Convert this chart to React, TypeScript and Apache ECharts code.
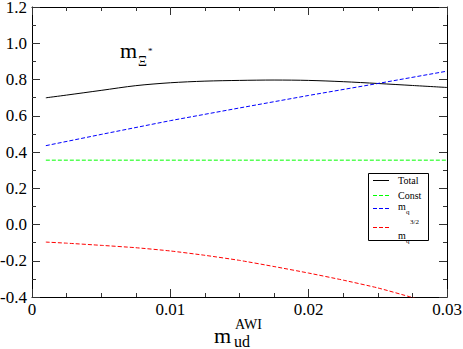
import React, { useEffect, useRef } from "react";
import * as echarts from "echarts";

const xFine = [0.001, 0.0025, 0.005, 0.0075, 0.01, 0.0125, 0.015, 0.0175, 0.02, 0.0225, 0.025, 0.0275, 0.03];
const total = [0.699, 0.714, 0.74, 0.766, 0.782, 0.791, 0.795, 0.797, 0.795, 0.788, 0.778, 0.767, 0.756];
const mq32 = [-0.097, -0.103, -0.115, -0.128, -0.146, -0.17, -0.198, -0.232, -0.268, -0.307, -0.35, -0.403, -0.46];
const xParts = [0.001, 0.005, 0.01, 0.015, 0.02, 0.025, 0.03];
const constant = [0.355, 0.355, 0.355, 0.355, 0.355, 0.355, 0.355];
const mq = [0.435, 0.497, 0.573, 0.643, 0.712, 0.778, 0.846];
const seriesNames = ["Total", "Const", "m_q", "m_q^3/2"];

const SERIF = "Liberation Serif";

function pairs(xs: number[], ys: number[]) {
  return xs.map((x, i) => [x, ys[i]]);
}

export default function App() {
  const ref = useRef<HTMLDivElement>(null);
  useEffect(() => {
    if (!ref.current) return;
    const chart = echarts.init(ref.current, null, { renderer: "svg" });
    const axisCommon = (show: boolean) => ({
      axisLine: { show: true, onZero: false, lineStyle: { color: "#000", width: 1 } },
      axisTick: { show: true, inside: true, length: 8, lineStyle: { color: "#333", width: 1 } },
      splitLine: { show: false },
      axisLabel: { show },
    });
    const txt = (text: string, x: number, y: number, size: number, align = "left") => ({
      type: "text",
      x,
      y,
      style: { text, fontSize: size, fontFamily: SERIF, fill: "#000", align, verticalAlign: "middle" },
      z: 100,
    });
    const sample = (y: number, color: string, dashed: boolean) => ({
      type: "line",
      shape: { x1: 373, y1: y, x2: 389, y2: y },
      style: { stroke: color, lineWidth: 1, lineDash: dashed ? [4, 2] : null },
      z: 100,
    });
    chart.setOption({
      animation: false,
      backgroundColor: "#fff",
      textStyle: { fontFamily: SERIF },
      grid: { left: 32, top: 7, right: 16, bottom: 52, containLabel: false, outerBoundsMode: "none" },
      xAxis: [
        {
          type: "value",
          position: "bottom",
          min: 0,
          max: 0.03,
          interval: 0.01,
          ...axisCommon(true),
          minorTick: { show: true, splitNumber: 4, length: 4, lineStyle: { color: "#333", width: 1 } },
          axisLabel: {
            show: true,
            margin: 4,
            color: "#000",
            fontSize: 17,
            lineHeight: 17,
            fontFamily: SERIF,
            formatter: (v: number) => String(parseFloat(v.toFixed(3))),
          },
        },
        {
          type: "value",
          position: "top",
          min: 0,
          max: 0.03,
          interval: 0.01,
          ...axisCommon(false),
          minorTick: { show: true, splitNumber: 4, length: 4, lineStyle: { color: "#333", width: 1 } },
        },
      ],
      yAxis: [
        {
          type: "value",
          position: "left",
          min: -0.4,
          max: 1.2,
          interval: 0.2,
          ...axisCommon(true),
          minorTick: { show: true, splitNumber: 2, length: 4, lineStyle: { color: "#333", width: 1 } },
          axisLabel: {
            show: true,
            margin: 5,
            color: "#000",
            fontSize: 17,
            lineHeight: 13,
            fontFamily: SERIF,
            formatter: (v: number) => v.toFixed(1),
          },
        },
        {
          type: "value",
          position: "right",
          min: -0.4,
          max: 1.2,
          interval: 0.2,
          ...axisCommon(false),
          minorTick: { show: true, splitNumber: 2, length: 4, lineStyle: { color: "#333", width: 1 } },
        },
      ],
      series: [
        {
          name: seriesNames[0],
          type: "line",
          data: pairs(xFine, total),
          smooth: 0.3,
          showSymbol: false,
          lineStyle: { color: "#000", width: 1 },
        },
        {
          name: seriesNames[1],
          type: "line",
          data: pairs(xParts, constant),
          showSymbol: false,
          lineStyle: { color: "#00ff00", width: 1, type: [4, 2] },
        },
        {
          name: seriesNames[2],
          type: "line",
          data: pairs(xParts, mq),
          showSymbol: false,
          lineStyle: { color: "#0000ff", width: 1, type: [4, 2] },
        },
        {
          name: seriesNames[3],
          type: "line",
          data: pairs(xFine, mq32),
          smooth: 0.2,
          showSymbol: false,
          clip: true,
          lineStyle: { color: "#ff0000", width: 1, type: [4, 2] },
        },
      ],
      graphic: [
        // title
        txt("m", 120, 50, 22),
        txt("Ξ", 138, 61, 14),
        txt("*", 148, 51, 9),
        // x-axis name
        txt("m", 214, 335.5, 22),
        txt("AWI", 235, 324.5, 14),
        txt("ud", 234, 341.5, 16),
        // legend box
        {
          type: "rect",
          shape: { x: 368.5, y: 173.5, width: 60, height: 67 },
          style: { fill: "#fff", stroke: "#000", lineWidth: 1 },
          z: 99,
        },
        sample(180.5, "#000", false),
        sample(195.5, "#00ff00", true),
        sample(208.5, "#0000ff", true),
        sample(227.5, "#ff0000", true),
        txt("Total", 398, 180.6, 10),
        txt("Const", 398, 195, 10),
        txt("m", 398, 206.6, 10),
        txt("q", 406, 212.4, 7),
        txt("m", 398, 235, 10),
        txt("q", 406, 241.2, 7),
        txt("3/2", 410, 222, 7),
      ],
    });
    return () => chart.dispose();
  }, []);
  return (
    <div
      ref={ref}
      style={{ position: "fixed", left: 0, top: 0, width: 463, height: 349 }}
    />
  );
}
